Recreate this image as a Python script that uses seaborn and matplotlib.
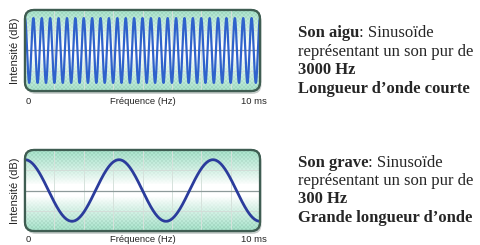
import matplotlib
matplotlib.use("Agg")
import matplotlib.pyplot as plt
import numpy as np
import pandas as pd
import seaborn as sns
from matplotlib.patches import FancyBboxPatch

# Data
freqs_hz = [3000, 300]
cycles_shown = [28, 2.5]          # cycles visible across the 10 ms window
amplitudes = [0.80, 0.76]
line_colors = ["#2f62cc", "#2b3c9c"]
line_widths = [1.6, 2.0]
x_labels = ["0", "Fréquence (Hz)", "10 ms"]
y_label = "Intensité (dB)"
titles = ["Son aigu", "Son grave"]
descr_lines = [
    ["représentant un son pur de", "3000 Hz", "Longueur d\u2019onde courte"],
    ["représentant un son pur de", "300 Hz", "Grande longueur d\u2019onde"],
]

sns.set_style("white")
plt.rcParams["font.family"] = ["Liberation Sans", "DejaVu Sans"]

W, H = 481, 245
fig = plt.figure(figsize=(W / 100, H / 100), dpi=100)

# axes boxes in pixel units (left, top, right, bottom)
boxes = [(25, 10, 260, 91), (25, 150, 260, 231)]
label_y = [102, 239]


def make_background(nx, ny):
    yy = np.linspace(-1, 1, ny)[:, None]
    f = np.clip((np.abs(yy) - 0.15) / 0.8, 0, 1) ** 0.85
    mint = np.array([0.68, 0.90, 0.81])
    img = (1 - f[..., None]) * 1.0 + f[..., None] * mint
    img = np.broadcast_to(img, (ny, nx, 3)).copy()
    ii, jj = np.meshgrid(np.arange(nx), np.arange(ny))
    checker = ((ii // 2 + jj // 2) % 2)[..., None] * 0.06 * f[..., None]
    img = np.clip(img - checker, 0, 1)
    return img


for k in range(2):
    l, t, r, b = boxes[k]
    ax = fig.add_axes([l / W, 1 - b / H, (r - l) / W, (b - t) / H])
    ax.set_xlim(0, 10)
    ax.set_ylim(-1, 1)
    ax.axis("off")
    aspect = (r - l) / (b - t)
    rs = 9 / (r - l)

    # shadow
    shadow = FancyBboxPatch((0.006, -0.035), 1, 1, boxstyle=f"round,pad=0,rounding_size={rs}",
                            mutation_aspect=aspect, transform=ax.transAxes,
                            facecolor="#7a8a84", edgecolor="none", alpha=0.45,
                            clip_on=False, zorder=0)
    ax.add_patch(shadow)

    frame = FancyBboxPatch((0, 0), 1, 1, boxstyle=f"round,pad=0,rounding_size={rs}",
                           mutation_aspect=aspect, transform=ax.transAxes,
                           facecolor="white", edgecolor="#3f5d52", linewidth=1.6,
                           clip_on=False, zorder=1)
    ax.add_patch(frame)

    bg = ax.imshow(make_background(r - l, b - t), extent=(0, 10, -1, 1),
                   aspect="auto", zorder=1.5, interpolation="nearest")
    bg.set_clip_path(frame)

    # grid
    for gx in np.arange(1, 8) * 10 / 8:
        ax.plot([gx, gx], [-1, 1], color="#d6e2dc", lw=0.7, zorder=2, clip_path=frame)
    for gy in (-0.5, 0.5):
        ax.axhline(gy, color="#d2ddd8", lw=0.7, zorder=2)
    ax.axhline(0, color="#8e9a9a", lw=0.9, zorder=2)

    # wave
    t_ms = np.linspace(0, 10, 3000)
    wave = amplitudes[k] * np.cos(2 * np.pi * cycles_shown[k] * t_ms / 10)
    df = pd.DataFrame({"t": t_ms, "v": wave})
    sns.lineplot(data=df, x="t", y="v", ax=ax, color=line_colors[k],
                 linewidth=line_widths[k], zorder=3)
    ax.axis("off")

    # re-draw frame edge on top
    edge = FancyBboxPatch((0, 0), 1, 1, boxstyle=f"round,pad=0,rounding_size={rs}",
                          mutation_aspect=aspect, transform=ax.transAxes,
                          facecolor="none", edgecolor="#3f5d52", linewidth=1.6,
                          clip_on=False, zorder=4)
    ax.add_patch(edge)

    # axis labels
    ylab = label_y[k]
    fig.text((l + 1) / W, 1 - ylab / H, x_labels[0], fontsize=6.8, ha="left", va="center")
    fig.text((l + r) / 2 / W, 1 - ylab / H, x_labels[1], fontsize=6.8, ha="center", va="center")
    fig.text((r + 7) / W, 1 - ylab / H, x_labels[2], fontsize=6.8, ha="right", va="center")
    fig.text(15 / W, 1 - (t + b) / 2 / H, y_label, fontsize=8, rotation=90,
             ha="center", va="center")

# right-hand text
serif = ["Liberation Serif", "DejaVu Serif"]
fs = 12
text_x = 298 / W
line_y = [[37, 56, 74, 93], [167, 185, 203, 222]]
fig.canvas.draw()
renderer = fig.canvas.get_renderer()
for k in range(2):
    ys = line_y[k]
    t1 = fig.text(text_x, 1 - ys[0] / H, titles[k], fontsize=fs, family=serif,
                  weight="bold", va="baseline", ha="left")
    bb = t1.get_window_extent(renderer)
    fig.text(bb.x1 / W, 1 - ys[0] / H, ": Sinusoïde", fontsize=fs, family=serif,
             va="baseline", ha="left")
    fig.text(text_x, 1 - ys[1] / H, descr_lines[k][0], fontsize=fs, family=serif,
             va="baseline", ha="left")
    fig.text(text_x, 1 - ys[2] / H, descr_lines[k][1], fontsize=fs, family=serif,
             weight="bold", va="baseline", ha="left")
    fig.text(text_x, 1 - ys[3] / H, descr_lines[k][2], fontsize=fs, family=serif,
             weight="bold", va="baseline", ha="left")

fig.savefig("out.png", dpi=100)
